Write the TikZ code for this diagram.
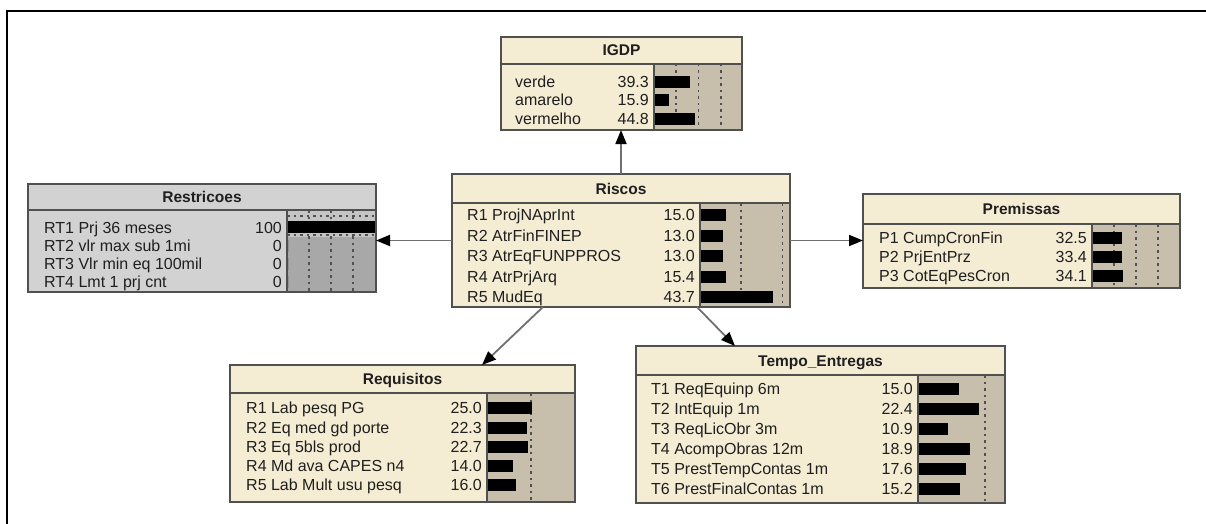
\documentclass[tikz,border=0pt]{standalone}
\usepackage{fontspec}
\setmainfont{Liberation Sans}
\usetikzlibrary{arrows.meta}
\definecolor{cream}{RGB}{245,236,212}
\definecolor{tanpanel}{RGB}{199,190,172}
\definecolor{rgray}{RGB}{210,210,210}
\definecolor{rpanel}{RGB}{168,168,168}
\definecolor{rband}{RGB}{196,196,196}
\definecolor{edgecol}{RGB}{80,80,80}
\definecolor{conncol}{RGB}{112,112,112}
\tikzset{
  boxnode/.style={inner sep=0pt, outer sep=0pt, draw=none, rectangle},
  boxedge/.style={draw=edgecol, line width=1.3pt},
  rowtxt/.style={inner sep=0pt, font=\fontsize{16}{18}\selectfont, text=black!88},
  titletxt/.style={inner sep=0pt, font=\fontsize{15.5}{18}\selectfont\bfseries, text=black!88},
  gridline/.style={draw=edgecol, line width=1.8pt, dash pattern=on 2.5pt off 4pt},
  connector/.style={draw=conncol, line width=1.8pt, -{Triangle[length=14pt,width=11pt,color=black]}},
  framestyle/.style={draw=black, line width=1.5pt},
}
\newcommand\netbox[8]{% name,x0,y0,x1,y1,sep,fill,panel
  \node[boxnode, fill=#7, anchor=north west, minimum width={#4-#2}, minimum height={#5-#3}] (#1) at (#2,#3) {};
  \fill[#8] (\PL,#6) rectangle (#4,#5);
}
\newcommand\gridv[3]{\foreach \gx in {#3} \draw[gridline] (\gx,#1) -- (\gx,#2);}
\newcommand\brow[5]{% name,y,label,value,bar
  \node[rowtxt, anchor=base west] (#1-l) at (\LX,#2+5.5) {#3};
  \node[rowtxt, anchor=base east] (#1-v) at (\PL-5,#2+5.5) {#4};
  \fill[black] (\PL+1,#2-6) rectangle ++(#5,12);
}
\newcommand\boxedges[5]{% name,x0,x1,sep,y1
  \draw[boxedge] (#2,#4) -- (#3,#4);
  \draw[boxedge] (\PL,#4) -- (\PL,#5);
  \draw[boxedge] (#1.north west) rectangle (#1.south east);
}
\newcommand\boxtitle[6]{% name,x0,x1,y0,sep,title
  \node[titletxt, anchor=base] (#1-title) at ({(#2+#3)/2},{(#4+#5)/2+5.5}) {#6};
}
\begin{document}
\begin{tikzpicture}[x=1pt,y=-1pt]
\useasboundingbox (0,0) rectangle (1206,524);
\fill[white] (0,0) rectangle (1206,524);
\draw[framestyle] (7,524) -- (7,11) -- (1206,11);

% IGDP
\def\LX{515}\def\PL{654}
\netbox{igdp}{501}{37}{742}{130}{64}{cream}{tanpanel}
\gridv{64}{130}{676.25,698.5,720.75}
\brow{igdp-1}{82}{verde}{39.3}{35}
\brow{igdp-2}{100.5}{amarelo}{15.9}{14.2}
\brow{igdp-3}{119}{vermelho}{44.8}{39.9}
\boxedges{igdp}{501}{742}{64}{130}
\boxtitle{igdp}{501}{742}{37}{64}{IGDP}

% Restricoes
\def\LX{44}\def\PL{287}
\netbox{restricoes}{28}{184}{376}{292}{210}{rgray}{rpanel}
\fill[rband] (\PL,211) rectangle (376,237);
\gridv{210}{292}{309,331,353}
\fill[black] (\PL,221) rectangle (376,233);
\draw[gridline] (\PL,216) -- (376,216);
\draw[gridline] (\PL,235) -- (376,235);
\brow{rt-1}{228}{RT1 Prj 36 meses}{100}{0}
\brow{rt-2}{246}{RT2 vlr max sub 1mi}{0}{0}
\brow{rt-3}{264}{RT3 Vlr min eq 100mil}{0}{0}
\brow{rt-4}{282}{RT4 Lmt 1 prj cnt}{0}{0}
\boxedges{restricoes}{28}{376}{210}{292}
\boxtitle{restricoes}{28}{376}{184}{210}{Restricoes}

% Riscos
\def\LX{467}\def\PL{700}
\netbox{riscos}{452}{174}{790}{307}{203}{cream}{tanpanel}
\gridv{203}{307}{741.25,782.5}
\brow{r-1}{215}{R1 ProjNAprInt}{15.0}{24.8}
\brow{r-2}{236}{R2 AtrFinFINEP}{13.0}{21.5}
\brow{r-3}{256}{R3 AtrEqFUNPPROS}{13.0}{21.5}
\brow{r-4}{277}{R4 AtrPrjArq}{15.4}{25.4}
\brow{r-5}{297}{R5 MudEq}{43.7}{72.1}
\boxedges{riscos}{452}{790}{203}{307}
\boxtitle{riscos}{452}{790}{174}{203}{Riscos}

% Premissas
\def\LX{879}\def\PL{1092}
\netbox{premissas}{863}{194}{1180}{288}{224}{cream}{tanpanel}
\gridv{224}{288}{1114,1136,1158}
\brow{p-1}{238}{P1 CumpCronFin}{32.5}{28.6}
\brow{p-2}{257}{P2 PrjEntPrz}{33.4}{29.4}
\brow{p-3}{276}{P3 CotEqPesCron}{34.1}{30}
\boxedges{premissas}{863}{1180}{224}{288}
\boxtitle{premissas}{863}{1180}{194}{224}{Premissas}

% Requisitos
\def\LX{246}\def\PL{487}
\netbox{requisitos}{230}{365}{575}{502}{393}{cream}{tanpanel}
\gridv{393}{502}{531}
\brow{q-1}{408}{R1 Lab pesq PG}{25.0}{44}
\brow{q-2}{428}{R2 Eq med gd porte}{22.3}{39.2}
\brow{q-3}{447}{R3 Eq 5bls prod}{22.7}{40}
\brow{q-4}{466}{R4 Md ava CAPES n4}{14.0}{24.6}
\brow{q-5}{485}{R5 Lab Mult usu pesq}{16.0}{28.2}
\boxedges{requisitos}{230}{575}{393}{502}
\boxtitle{requisitos}{230}{575}{365}{393}{Requisitos}

% Tempo_Entregas
\def\LX{651}\def\PL{918}
\netbox{tempo}{636}{346}{1005}{503}{375}{cream}{tanpanel}
\gridv{375}{503}{985}
\brow{t-1}{389}{T1 ReqEquinp 6m}{15.0}{40.2}
\brow{t-2}{409}{T2 IntEquip 1m}{22.4}{60}
\brow{t-3}{429}{T3 ReqLicObr 3m}{10.9}{29.2}
\brow{t-4}{449}{T4 AcompObras 12m}{18.9}{50.7}
\brow{t-5}{469}{T5 PrestTempContas 1m}{17.6}{47.2}
\brow{t-6}{489}{T6 PrestFinalContas 1m}{15.2}{40.7}
\boxedges{tempo}{636}{1005}{375}{503}
\boxtitle{tempo}{636}{1005}{346}{375}{Tempo\_Entregas}

% connectors
\draw[connector] (riscos.north) -- (riscos.north |- igdp.south);
\draw[connector] (riscos.west) -- (riscos.west -| restricoes.east);
\draw[connector] (riscos.east) -- (riscos.east -| premissas.west);
\draw[connector] ([xshift=91pt]riscos.south west) -- ([xshift=252pt]requisitos.north west);
\draw[connector] ([xshift=245pt]riscos.south west) -- ([xshift=99pt]tempo.north west);
\end{tikzpicture}
\end{document}
